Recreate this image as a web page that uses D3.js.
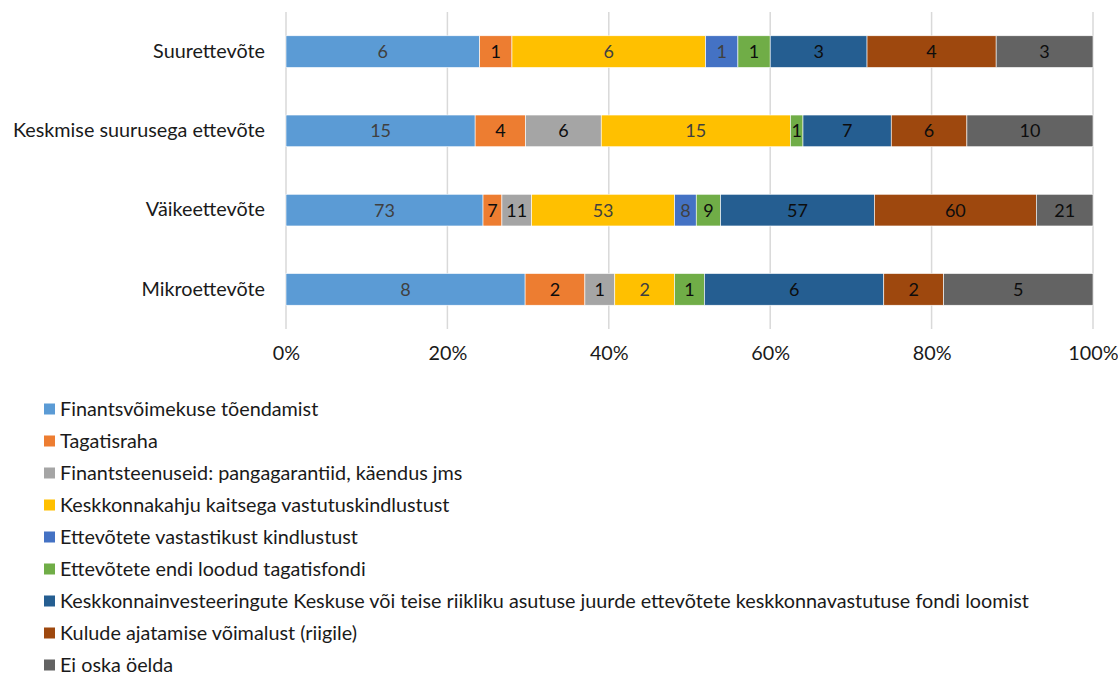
<!DOCTYPE html>
<html>
<head>
<meta charset="utf-8">
<script src="https://cdn.jsdelivr.net/npm/d3@7"></script>
<style>
  html, body { margin: 0; padding: 0; background: #fff; }
  svg { display: block; }
  text { font-family: Lato, "Open Sans", sans-serif; }
</style>
</head>
<body>
<svg id="chart" width="1118" height="677"></svg>
<script>
// Company size groups, top to bottom
const categories = ["Suurettevõte", "Keskmise suurusega ettevõte", "Väikeettevõte", "Mikroettevõte"];

// Series names (legend order)
const seriesNames = [
  "Finantsvõimekuse tõendamist",
  "Tagatisraha",
  "Finantsteenuseid: pangagarantiid, käendus jms",
  "Keskkonnakahju kaitsega vastutuskindlustust",
  "Ettevõtete vastastikust kindlustust",
  "Ettevõtete endi loodud tagatisfondi",
  "Keskkonnainvesteeringute Keskuse või teise riikliku asutuse juurde ettevõtete keskkonnavastutuse fondi loomist",
  "Kulude ajatamise võimalust (riigile)",
  "Ei oska öelda"
];

// Response counts per series, in category order
const finantsvoimekus    = [6, 15, 73, 8];
const tagatisraha        = [1, 4, 7, 2];
const finantsteenused    = [0, 6, 11, 1];
const vastutuskindlustus = [6, 15, 53, 2];
const vastastikune       = [1, 0, 8, 0];
const tagatisfond        = [1, 1, 9, 1];
const riiklikFond        = [3, 7, 57, 6];
const kuludeAjatamine    = [4, 6, 60, 2];
const eiOskaOelda        = [3, 10, 21, 5];

const seriesValues = [finantsvoimekus, tagatisraha, finantsteenused, vastutuskindlustus,
  vastastikune, tagatisfond, riiklikFond, kuludeAjatamine, eiOskaOelda];

const tickValues = [0, 0.2, 0.4, 0.6, 0.8, 1.0];

const colors = ["#5B9BD5", "#ED7D31", "#A5A5A5", "#FFC000", "#4472C4",
  "#70AD47", "#255E91", "#9E480E", "#636363"];
const labelColors = ["#404040", "#0d0d0d", "#0d0d0d", "#404040", "#404040",
  "#0d0d0d", "#0d0d0d", "#0d0d0d", "#0d0d0d"];

const FONT = "Lato, 'Open Sans', sans-serif";
const TEXT_SIZE = 19.8;

// Build rows for stacking
const rows = categories.map((c, i) => {
  const r = { category: c };
  seriesNames.forEach((s, j) => { r[s] = seriesValues[j][i]; });
  return r;
});

const stacked = d3.stack()
  .keys(seriesNames)
  .offset(d3.stackOffsetExpand)(rows);

const svg = d3.select("#chart");
const plot = { left: 286, right: 1093, top: 12, bottom: 329 };

const x = d3.scaleLinear().domain([0, 1]).range([plot.left, plot.right]);
const y = d3.scaleBand().domain(categories).range([plot.top, plot.bottom])
  .paddingInner(0.6).paddingOuter(0.3);

// Vertical gridlines
svg.append("g")
  .selectAll("line")
  .data(tickValues)
  .join("line")
  .attr("x1", d => x(d)).attr("x2", d => x(d))
  .attr("y1", plot.top).attr("y2", plot.bottom)
  .attr("stroke", "#d9d9d9")
  .attr("stroke-width", 1.5);

// Bottom axis labels
const xAxis = d3.axisBottom(x).tickValues(tickValues)
  .tickFormat(d3.format(".0%")).tickSize(0).tickPadding(0);
const ax = svg.append("g").attr("transform", `translate(0, ${plot.bottom + 17})`).call(xAxis);
ax.select(".domain").remove();
ax.selectAll("text")
  .attr("font-family", FONT)
  .attr("font-size", TEXT_SIZE)
  .attr("fill", "#1a1a1a")
  .attr("dy", "0.71em");

// Category labels
const yAxis = d3.axisLeft(y).tickSize(0).tickPadding(0);
const ay = svg.append("g").attr("transform", `translate(${plot.left - 21}, 0)`).call(yAxis);
ay.select(".domain").remove();
ay.selectAll("text")
  .attr("font-family", FONT)
  .attr("font-size", TEXT_SIZE)
  .attr("fill", "#1a1a1a");

// Stacked bar segments
const layers = svg.append("g")
  .selectAll("g")
  .data(stacked)
  .join("g")
  .attr("fill", (d, i) => colors[i]);

layers.selectAll("rect")
  .data(d => d.map(p => ({ p, key: d.key })))
  .join("rect")
  .filter(d => d.p[1] - d.p[0] > 0)
  .attr("x", d => x(d.p[0]))
  .attr("y", d => y(d.p.data.category))
  .attr("width", d => x(d.p[1]) - x(d.p[0]))
  .attr("height", y.bandwidth())
  .attr("stroke", "#ffffff")
  .attr("stroke-width", 0.6);

// Value labels
stacked.forEach((layer, i) => {
  svg.append("g")
    .selectAll("text")
    .data(layer.filter(p => p.data[layer.key] > 0))
    .join("text")
    .attr("x", p => (x(p[0]) + x(p[1])) / 2)
    .attr("y", p => y(p.data.category) + y.bandwidth() / 2)
    .attr("text-anchor", "middle")
    .attr("dy", "0.36em")
    .attr("font-size", 18)
    .attr("fill", labelColors[i])
    .text(p => p.data[layer.key]);
});

// Legend
const legend = svg.append("g");
const legendTop = 409, legendStep = 32;
seriesNames.forEach((s, i) => {
  const g = legend.append("g").attr("transform", `translate(44, ${legendTop + i * legendStep})`);
  g.append("rect").attr("x", 0).attr("y", -5.5).attr("width", 11).attr("height", 11).attr("fill", colors[i]);
  g.append("text").attr("x", 16).attr("y", 0).attr("dy", "0.33em")
    .attr("font-size", TEXT_SIZE).attr("fill", "#1a1a1a").text(s);
});
</script>
</body>
</html>
